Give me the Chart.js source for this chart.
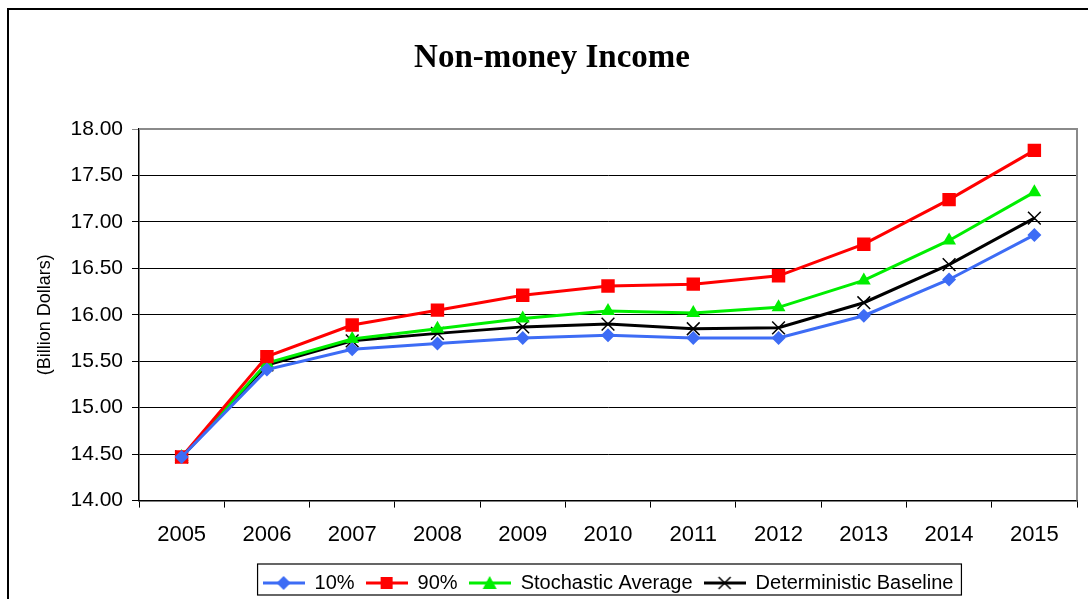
<!DOCTYPE html>
<html>
<head>
<meta charset="utf-8">
<script src="https://cdn.jsdelivr.net/npm/chart.js@4"></script>
<style>
  body { margin: 0; background: #fff; }
  #wrap { width: 1088px; height: 599px; position: relative; }
</style>
</head>
<body>
<div id="wrap"><canvas id="chart" width="1088" height="599"></canvas></div>
<script>
// Years on the x axis
const years = ["2005", "2006", "2007", "2008", "2009", "2010", "2011", "2012", "2013", "2014", "2015"];

// Series values (billion dollars)
const p10 = [14.47, 15.41, 15.63, 15.69, 15.75, 15.78, 15.75, 15.75, 15.99, 16.38, 16.86];
const p90 = [14.47, 15.55, 15.89, 16.05, 16.21, 16.31, 16.33, 16.42, 16.76, 17.24, 17.77];
const stochAvg = [14.47, 15.48, 15.74, 15.85, 15.96, 16.04, 16.02, 16.08, 16.37, 16.80, 17.32];
const detBase = [14.47, 15.46, 15.72, 15.80, 15.87, 15.90, 15.85, 15.86, 16.13, 16.54, 17.04];

// Y axis range
const yMin = 14;
const yMax = 18;
const yStep = 0.5;

const chartTitle = "Non-money Income";
const seriesNames = ["10%", "90%", "Stochastic Average", "Deterministic Baseline"];
const seriesColors = ["#3d6cf5", "#ff0000", "#00ee00", "#000000"];

// Legend symbol: a short line with the marker in the middle
function legendIcon(color, style) {
  const c = document.createElement("canvas");
  c.width = 42;
  c.height = 20;
  const g = c.getContext("2d");
  g.strokeStyle = color;
  g.lineWidth = 3;
  g.beginPath();
  g.moveTo(0, 10);
  g.lineTo(42, 10);
  g.stroke();
  g.fillStyle = color;
  g.beginPath();
  if (style === "rectRot") {
    g.moveTo(21, 3); g.lineTo(28, 10); g.lineTo(21, 17); g.lineTo(14, 10);
    g.fill();
  } else if (style === "rect") {
    g.fillRect(15, 4, 12, 12);
  } else if (style === "triangle") {
    g.moveTo(21, 3); g.lineTo(28, 16); g.lineTo(14, 16);
    g.fill();
  } else {
    g.lineWidth = 1.5;
    g.moveTo(15, 4); g.lineTo(27, 16);
    g.moveTo(27, 4); g.lineTo(15, 16);
    g.stroke();
  }
  return c;
}

const pointStyles = ["rectRot", "rect", "triangle", "crossRot"];
const pointSizes = [7, 9.5, 8, 9];
const seriesData = [p10, p90, stochAvg, detBase];

const datasets = seriesData.map((d, i) => ({
  label: seriesNames[i],
  data: d,
  borderColor: seriesColors[i],
  backgroundColor: seriesColors[i],
  borderWidth: 3,
  pointStyle: pointStyles[i],
  pointRadius: pointSizes[i],
  pointBorderWidth: i === 3 ? 1.5 : 0,
  pointBorderColor: seriesColors[i],
  tension: 0,
}));

// Frame, title, plot border and legend box
const decorPlugin = {
  id: "decor",
  beforeDraw(chart) {
    const ctx = chart.ctx;
    ctx.save();
    ctx.fillStyle = "#fff";
    ctx.fillRect(0, 0, chart.width, chart.height);
    ctx.strokeStyle = "#000";
    ctx.lineWidth = 2;
    ctx.beginPath();
    ctx.moveTo(8, chart.height);
    ctx.lineTo(8, 9);
    ctx.lineTo(chart.width, 9);
    ctx.stroke();
    // title is centred on the outer frame, not on the canvas
    ctx.fillStyle = "#000";
    ctx.font = "bold 33px 'Liberation Serif', 'Times New Roman', serif";
    ctx.textAlign = "center";
    ctx.textBaseline = "middle";
    ctx.fillText(chartTitle, 552, 58);
    ctx.restore();
  },
  afterDraw(chart) {
    const ctx = chart.ctx;
    const a = chart.chartArea;
    ctx.save();
    ctx.strokeStyle = "#8a8a8a";
    ctx.lineWidth = 2;
    ctx.beginPath();
    ctx.moveTo(a.left, a.top);
    ctx.lineTo(a.right, a.top);
    ctx.lineTo(a.right, a.bottom);
    ctx.stroke();
    // box round the legend items
    const boxes = chart.legend.legendHitBoxes;
    if (boxes && boxes.length) {
      const l = Math.min(...boxes.map((b) => b.left)) - 5;
      const r = Math.max(...boxes.map((b) => b.left + b.width)) + 8;
      const t = boxes[0].top - 9;
      const h = boxes[0].height + 11;
      ctx.strokeStyle = "#000";
      ctx.lineWidth = 1.2;
      ctx.strokeRect(l, t, r - l, h);
    }
    ctx.restore();
  },
};

const ctx = document.getElementById("chart").getContext("2d");
const chart = new Chart(ctx, {
  type: "line",
  data: { labels: years, datasets: datasets },
  options: {
    responsive: false,
    animation: false,
    layout: { padding: { left: 0, right: 11, top: 129, bottom: -4 } },
    plugins: {
      title: { display: false },
      legend: {
        position: "bottom",
        fullSize: false,
        labels: {
          color: "#000",
          font: { family: "'Liberation Sans', Arial, sans-serif", size: 20 },
          usePointStyle: true,
          pointStyleWidth: 42,
          boxHeight: 20,
          padding: 11,
          generateLabels: (chart) =>
            chart.data.datasets.map((ds, i) => ({
              text: ds.label,
              pointStyle: legendIcon(seriesColors[i], pointStyles[i]),
              fillStyle: seriesColors[i],
              strokeStyle: seriesColors[i],
              lineWidth: 0,
              fontColor: "#000",
              datasetIndex: i,
            })),
        },
      },
      tooltip: { enabled: false },
    },
    scales: {
      x: {
        offset: true,
        grid: {
          offset: true,
          drawOnChartArea: false,
          drawTicks: true,
          tickLength: 7,
          color: "#000",
        },
        border: { color: "#000", width: 1.5 },
        ticks: {
          color: "#000",
          padding: 14,
          font: { family: "'Liberation Sans', Arial, sans-serif", size: 22 },
        },
      },
      y: {
        min: yMin,
        max: yMax,
        afterFit: (scale) => {
          scale.width = 139;
        },
        grid: {
          color: (c) => (c.tick && c.tick.value === yMax ? "#8a8a8a" : "#000"),
          lineWidth: 1,
          tickLength: 7,
        },
        border: { color: "#000", width: 1.5 },
        ticks: {
          stepSize: yStep,
          color: "#000",
          padding: 9,
          font: { family: "'Liberation Sans', Arial, sans-serif", size: 21 },
          callback: (v) => v.toFixed(2),
        },
        title: {
          display: true,
          text: "(Billion Dollars)",
          color: "#000",
          font: { family: "'Liberation Sans', Arial, sans-serif", size: 18 },
          padding: { top: 34, bottom: 0 },
        },
      },
    },
  },
  plugins: [decorPlugin],
});
</script>
</body>
</html>
